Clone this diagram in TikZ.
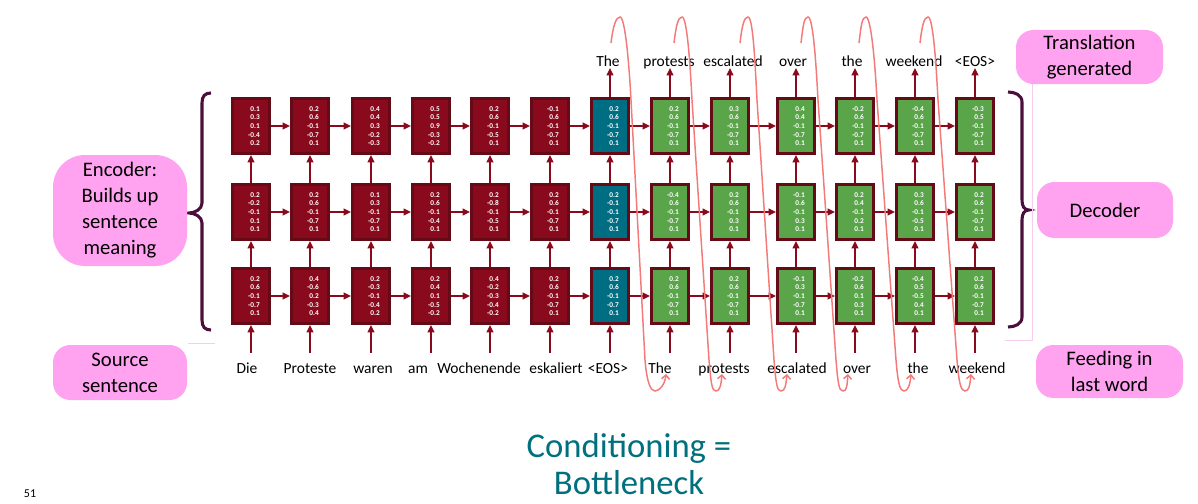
\documentclass[tikz,border=0pt]{standalone}
\usepackage{fontspec}
\setmainfont{Carlito}
\usetikzlibrary{arrows.meta,calc}
\definecolor{encfill}{HTML}{8A0A1D}
\definecolor{cellborder}{HTML}{650A17}
\definecolor{decfill}{HTML}{5AA449}
\definecolor{ctxfill}{HTML}{006E82}
\definecolor{arrred}{HTML}{8A0A1D}
\definecolor{pinkbox}{HTML}{FFA3F0}
\definecolor{bracecol}{HTML}{4B0F3C}
\definecolor{loopcol}{HTML}{F47A7A}
\definecolor{tealtext}{HTML}{00707F}
\definecolor{faint}{HTML}{F7CDEF}
\newcommand\mkcell[5]{%
  \node[cellbox,#4] (#1) at (#2,#3) {};
  \node[nums,anchor=east] (#1n) at ($(#1.center)+(9,0)$) {#5};}
\newcommand\mkloop[7]{%
  \coordinate (ls#1) at (#2,43);
  \coordinate (le#1) at (#7,374);
  \draw[loopline] (ls#1) .. controls (#2+2,26) and (#3-4,17) .. (#3,17)
     .. controls (#3+5,17) and (#4-2,62) .. (#4,100) -- (#5,360)
     .. controls (#5+2,384) and (#6-4,391) .. (#6,391)
     .. controls (#6+4,391) and (#7-1,385) .. (le#1);}
\begin{document}
\begin{tikzpicture}[x=0.75pt,y=-0.75pt,
  cellbox/.style={draw=cellborder,line width=1.9pt,minimum width=28.1pt,minimum height=41.6pt,inner sep=0pt},
  enc/.style={fill=encfill},
  dec/.style={fill=decfill},
  ctx/.style={fill=ctxfill},
  nums/.style={text=white,font=\fontsize{5.5}{6.5}\selectfont\bfseries,align=right,inner sep=0pt},
  arr/.style={draw=arrred,line width=1.5pt,-{Triangle[length=5.5pt,width=5pt]}},
  word/.style={font=\fontsize{11.6}{14}\selectfont,inner sep=0pt,anchor=base},
  pinklab/.style={fill=pinkbox,rounded corners=13pt,align=center,font=\fontsize{15.5}{19.5}\selectfont,inner sep=0pt},
  loopline/.style={draw=loopcol,line width=1.1pt,-{Straight Barb[length=3pt,width=6pt]}},
  bracepath/.style={draw=bracecol,line width=2.3pt},
  faintline/.style={draw=faint,line width=0.5pt},
]
\useasboundingbox (0,0) rectangle (1198,503);
\clip (0,0) rectangle (1198,503);
\fill[white] (0,0) rectangle (1198,503);

% ---- row 1 (top)
\mkcell{b1-1}{251}{126}{enc}{0.1\\0.3\\0.1\\-0.4\\0.2}
\mkcell{b1-2}{310}{126}{enc}{0.2\\0.6\\-0.1\\-0.7\\0.1}
\mkcell{b1-3}{371}{126}{enc}{0.4\\0.4\\0.3\\-0.2\\-0.3}
\mkcell{b1-4}{431}{126}{enc}{0.5\\0.5\\0.9\\-0.3\\-0.2}
\mkcell{b1-5}{490}{126}{enc}{0.2\\0.6\\-0.1\\-0.5\\0.1}
\mkcell{b1-6}{550}{126}{enc}{-0.1\\0.6\\-0.1\\-0.7\\0.1}
\mkcell{b1-7}{610}{126}{ctx}{0.2\\0.6\\-0.1\\-0.7\\0.1}
\mkcell{b1-8}{670}{126}{dec}{0.2\\0.6\\-0.1\\-0.7\\0.1}
\mkcell{b1-9}{730}{126}{dec}{0.3\\0.6\\-0.1\\-0.7\\0.1}
\mkcell{b1-10}{796}{126}{dec}{0.4\\0.4\\-0.1\\-0.7\\0.1}
\mkcell{b1-11}{855}{126}{dec}{-0.2\\0.6\\-0.1\\-0.7\\0.1}
\mkcell{b1-12}{915}{126}{dec}{-0.4\\0.6\\-0.1\\-0.7\\0.1}
\mkcell{b1-13}{975}{126}{dec}{-0.3\\0.5\\-0.1\\-0.7\\0.1}
% ---- row 2
\mkcell{b2-1}{251}{212}{enc}{0.2\\-0.2\\-0.1\\0.1\\0.1}
\mkcell{b2-2}{310}{212}{enc}{0.2\\0.6\\-0.1\\-0.7\\0.1}
\mkcell{b2-3}{371}{212}{enc}{0.1\\0.3\\-0.1\\-0.7\\0.1}
\mkcell{b2-4}{431}{212}{enc}{0.2\\0.6\\-0.1\\-0.4\\0.1}
\mkcell{b2-5}{490}{212}{enc}{0.2\\-0.8\\-0.1\\-0.5\\0.1}
\mkcell{b2-6}{550}{212}{enc}{0.2\\0.6\\-0.1\\-0.7\\0.1}
\mkcell{b2-7}{610}{212}{ctx}{0.2\\-0.1\\-0.1\\-0.7\\0.1}
\mkcell{b2-8}{670}{212}{dec}{-0.4\\0.6\\-0.1\\-0.7\\0.1}
\mkcell{b2-9}{730}{212}{dec}{0.2\\0.6\\-0.1\\0.3\\0.1}
\mkcell{b2-10}{796}{212}{dec}{-0.1\\0.6\\-0.1\\0.3\\0.1}
\mkcell{b2-11}{855}{212}{dec}{0.2\\0.4\\-0.1\\0.2\\0.1}
\mkcell{b2-12}{915}{212}{dec}{0.3\\0.6\\-0.1\\-0.5\\0.1}
\mkcell{b2-13}{975}{212}{dec}{0.2\\0.6\\-0.1\\-0.7\\0.1}
% ---- row 3
\mkcell{b3-1}{251}{296}{enc}{0.2\\0.6\\-0.1\\-0.7\\0.1}
\mkcell{b3-2}{310}{296}{enc}{0.4\\-0.6\\0.2\\-0.3\\0.4}
\mkcell{b3-3}{371}{296}{enc}{0.2\\-0.3\\-0.1\\-0.4\\0.2}
\mkcell{b3-4}{431}{296}{enc}{0.2\\0.4\\0.1\\-0.5\\-0.2}
\mkcell{b3-5}{490}{296}{enc}{0.4\\-0.2\\-0.3\\-0.4\\-0.2}
\mkcell{b3-6}{550}{296}{enc}{0.2\\0.6\\-0.1\\-0.7\\0.1}
\mkcell{b3-7}{610}{296}{ctx}{0.2\\0.6\\-0.1\\-0.7\\0.1}
\mkcell{b3-8}{670}{296}{dec}{0.2\\0.6\\-0.1\\-0.7\\0.1}
\mkcell{b3-9}{730}{296}{dec}{0.2\\0.6\\-0.1\\-0.7\\0.1}
\mkcell{b3-10}{796}{296}{dec}{-0.1\\0.3\\-0.1\\-0.7\\0.1}
\mkcell{b3-11}{855}{296}{dec}{-0.2\\0.6\\0.1\\0.3\\0.1}
\mkcell{b3-12}{915}{296}{dec}{-0.4\\0.5\\-0.5\\0.4\\0.1}
\mkcell{b3-13}{975}{296}{dec}{0.2\\0.6\\-0.1\\-0.7\\0.1}

% ---- horizontal arrows
\foreach \r in {1,2,3}{
  \foreach \c in {1,...,12}{
    \pgfmathtruncatemacro\n{\c+1}
    \draw[arr] (b\r-\c.east) -- (b\r-\n.west);
  }
}
% ---- vertical arrows between rows
\foreach \c in {1,...,13}{
  \draw[arr] (b3-\c.north) -- (b2-\c.south);
  \draw[arr] (b2-\c.north) -- (b1-\c.south);
}

% ---- bottom words
\foreach \c/\x/\t in {1/247/Die,2/310/Proteste,3/373/waren,4/418/am,5/479/Wochenende,6/556/eskaliert,7/608/{<EOS>},8/660/The,9/724/protests,10/797/escalated,11/857/over,12/918/the,13/977/weekend}{
  \node[word] (w\c) at (\x,373) {\t};
}
\foreach \c/\x in {1/251,2/310,3/371,4/431,5/490,6/550,7/610,8/670,9/730,10/796,11/855,12/915,13/975}{
  \coordinate (in\c) at (\x,353);
  \draw[arr] (in\c) -- (b3-\c.south);
}

% ---- top words
\foreach \c/\x/\t in {7/608/The,8/669/protests,9/733/escalated,10/793/over,11/852/the,12/914/weekend,13/975/{<EOS>}}{
  \node[word] (t\c) at (\x,67) {\t};
}
\foreach \c/\x in {7/610,8/670,9/730,10/796,11/855,12/915,13/975}{
  \coordinate (out\c) at (\x,68);
  \draw[arr] (b1-\c.north) -- (out\c);
}

% ---- feedback loops
\mkloop{1}{611}{620}{631}{645}{655}{666}
\mkloop{2}{674}{682}{692}{709}{716}{722}
\mkloop{3}{740}{748}{757}{774}{781}{787}
\mkloop{4}{801}{808}{818}{836}{843}{848}
\mkloop{5}{859}{866}{877}{896}{904}{911}
\mkloop{6}{920}{928}{938}{957}{965}{971}

% ---- braces
\draw[bracepath] (211,93) .. controls (205,93) and (202,96) .. (202,103) -- (202,203)
  .. controls (202,209) and (195,213) .. (189,213)
  .. controls (195,213) and (202,217) .. (202,223) -- (202,320)
  .. controls (202,327) and (205,330) .. (211,330);
\draw[bracepath] (1008,92) .. controls (1015,92) and (1022,95) .. (1022,102) -- (1022,200)
  .. controls (1022,206) and (1024,210) .. (1029,210)
  .. controls (1024,210) and (1022,214) .. (1022,220) -- (1022,317)
  .. controls (1022,324) and (1015,327) .. (1008,327);

% ---- faint slide lines
\draw[faintline] (188,343) -- (215,343);
\draw[faintline] (1005,340) -- (1032,340) -- (1032,78);

% ---- pink labels
\node[pinklab,minimum width=110.25pt,minimum height=40.5pt] (trans) at (1089.5,57) {Translation\\generated};
\node[pinklab,minimum width=102pt,minimum height=42pt] (decl) at (1105,210) {Decoder};
\node[pinklab,minimum width=110.25pt,minimum height=39.75pt] (feed) at (1109.5,371.5) {Feeding in\\last word};
\node[pinklab,rounded corners=24pt,minimum width=100.5pt,minimum height=83.25pt] (encl) at (120,210.5) {Encoder:\\Builds up\\sentence\\meaning};
\node[pinklab,minimum width=100.5pt,minimum height=41.25pt] (srcl) at (120,372.5) {Source\\sentence};

% ---- bottom text
\node[text=tealtext,align=center,font=\fontsize{26}{28}\selectfont,inner sep=0pt] (cond) at (629,464) {Conditioning =\\Bottleneck};
\node[font=\fontsize{9}{10}\selectfont,anchor=north,inner sep=0pt] (pnum) at (30,490) {51};
\end{tikzpicture}
\end{document}
